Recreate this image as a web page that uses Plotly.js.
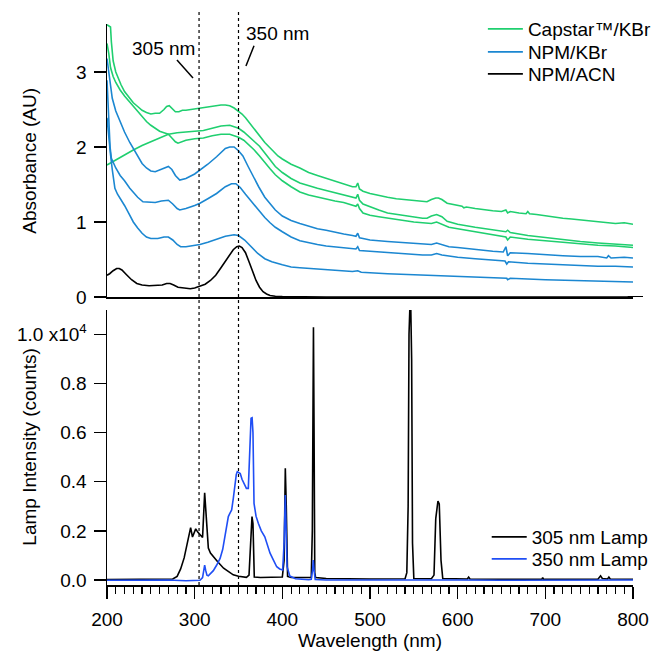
<!DOCTYPE html>
<html>
<head>
<meta charset="utf-8">
<script src="https://cdn.plot.ly/plotly-3.0.1.min.js"></script>
<style>html,body{margin:0;padding:0;background:#fff;}#chart{width:652px;height:652px;}</style>
</head>
<body>
<div id="chart"></div>
<script>
// ---------- Absorbance spectra (top panel) ----------
const wl_cap1 = [200,202,204,205,207,210,213,216,220,225,230,235,240,245,250,255,260,265,268,271,274,278,282,286,290,295,300,305,310,315,320,325,330,335,340,345,350,354,358,362,366,370,375,380,385,390,395,400,410,420,430,440,450,460,470,480,484,486,488,492,500,510,520,530,540,550,560,565,570,575,578,582,588,595,605,607,610,620,630,640,650,655,657,660,670,678,680,682,690,700,710,720,730,740,750,760,770,780,790,800];
const abs_cap1 = [3.63,3.62,3.60,3.40,3.15,3.00,2.90,2.83,2.74,2.66,2.59,2.54,2.49,2.46,2.44,2.45,2.45,2.50,2.54,2.55,2.51,2.47,2.47,2.49,2.49,2.50,2.51,2.52,2.52,2.53,2.54,2.55,2.56,2.56,2.55,2.52,2.48,2.44,2.39,2.33,2.26,2.21,2.14,2.06,2.00,1.94,1.88,1.84,1.77,1.72,1.66,1.62,1.58,1.54,1.50,1.47,1.47,1.52,1.44,1.41,1.38,1.35,1.33,1.31,1.30,1.28,1.27,1.27,1.30,1.32,1.32,1.30,1.25,1.23,1.21,1.19,1.20,1.18,1.16,1.15,1.14,1.16,1.12,1.14,1.12,1.11,1.14,1.11,1.10,1.08,1.07,1.05,1.04,1.03,1.02,1.01,1.00,0.98,0.99,0.97];

const wl_cap2 = [200,210,220,230,240,250,260,270,280,290,300,310,320,330,340,350,356,362,368,374,380,386,392,400,410,420,430,440,450,460,470,480,484,486,488,492,500,510,520,530,540,550,560,565,570,576,582,588,600,620,640,655,657,660,680,700,720,740,760,780,800];
const abs_cap2 = [1.76,1.83,1.89,1.96,2.02,2.07,2.12,2.17,2.19,2.20,2.21,2.22,2.25,2.28,2.29,2.25,2.20,2.14,2.08,2.01,1.92,1.83,1.74,1.66,1.58,1.52,1.48,1.45,1.42,1.39,1.37,1.33,1.32,1.37,1.29,1.24,1.20,1.16,1.12,1.10,1.08,1.06,1.05,1.05,1.08,1.10,1.07,1.01,0.97,0.93,0.90,0.87,0.89,0.86,0.82,0.79,0.76,0.74,0.72,0.70,0.69];

const wl_cap3 = [200,202,204,207,210,215,220,225,230,235,240,245,250,255,260,265,270,274,278,281,285,290,300,310,320,330,340,350,356,362,368,374,380,386,392,400,410,420,430,440,450,460,470,480,484,486,488,492,500,510,520,530,540,550,560,570,576,582,590,600,620,640,655,657,660,680,700,720,740,760,780,800];
const abs_cap3 = [3.38,3.25,3.06,2.94,2.86,2.76,2.68,2.61,2.54,2.47,2.40,2.34,2.29,2.25,2.21,2.19,2.17,2.12,2.07,2.05,2.07,2.09,2.11,2.12,2.15,2.17,2.17,2.13,2.09,2.03,1.96,1.88,1.79,1.71,1.63,1.55,1.47,1.40,1.36,1.33,1.31,1.28,1.26,1.22,1.21,1.24,1.18,1.12,1.09,1.07,1.05,1.04,1.02,1.00,0.99,0.98,1.00,0.97,0.93,0.91,0.87,0.83,0.80,0.76,0.80,0.77,0.75,0.72,0.71,0.69,0.68,0.66];

const wl_kbr1 = [200,203,206,210,215,220,226,230,234,240,245,250,255,260,265,270,274,278,283,290,300,306,315,325,335,340,345,350,355,361,367,373,380,386,392,400,410,420,430,440,450,460,470,480,484,486,488,492,500,520,540,560,570,576,582,590,600,620,640,652,655,657,660,680,700,720,740,760,770,772,775,790,800];
const abs_kbr1 = [3.18,2.90,2.65,2.48,2.33,2.20,2.06,1.98,1.89,1.78,1.72,1.68,1.67,1.69,1.72,1.74,1.70,1.62,1.56,1.58,1.64,1.69,1.77,1.87,1.98,2.00,2.00,1.95,1.88,1.74,1.60,1.47,1.33,1.24,1.16,1.08,1.02,0.98,0.94,0.91,0.89,0.86,0.84,0.82,0.81,0.85,0.79,0.78,0.76,0.74,0.72,0.70,0.70,0.72,0.70,0.67,0.66,0.63,0.61,0.60,0.67,0.55,0.59,0.58,0.56,0.55,0.54,0.54,0.52,0.55,0.52,0.53,0.52];

const wl_kbr2 = [200,202,203.5,205,210,215,220,226,230,235,241,248,255,262,270,275,280,283,290,300,306,315,325,335,342,347,352,358,365,372,380,386,392,400,410,420,430,440,450,460,470,480,484,486,488,500,520,540,560,570,576,582,600,620,640,654,656,658,680,700,720,740,760,780,800];
const abs_kbr2 = [2.89,2.40,2.00,1.85,1.72,1.62,1.55,1.45,1.39,1.33,1.27,1.26,1.26,1.28,1.29,1.24,1.18,1.16,1.18,1.22,1.25,1.31,1.38,1.47,1.51,1.51,1.46,1.37,1.27,1.16,1.06,0.99,0.93,0.87,0.80,0.75,0.72,0.70,0.68,0.67,0.65,0.64,0.64,0.67,0.62,0.61,0.59,0.57,0.56,0.56,0.58,0.56,0.53,0.51,0.49,0.48,0.44,0.47,0.45,0.44,0.43,0.42,0.41,0.41,0.40];

const wl_kbr3 = [200,202,204,206,209,212,215,220,225,230,235,240,245,250,258,265,270,275,280,284,290,300,306,315,325,335,345,350,357,365,372,380,388,400,410,420,440,460,480,486,490,520,560,580,600,640,656,657,660,700,740,780,800];
const abs_kbr3 = [2.39,2.10,1.90,1.70,1.45,1.37,1.32,1.22,1.11,1.00,0.92,0.85,0.80,0.78,0.78,0.80,0.80,0.76,0.70,0.67,0.67,0.69,0.70,0.73,0.77,0.81,0.83,0.82,0.76,0.67,0.58,0.51,0.47,0.43,0.40,0.39,0.37,0.35,0.34,0.35,0.33,0.31,0.29,0.28,0.27,0.25,0.25,0.23,0.25,0.23,0.22,0.21,0.20];

const wl_acn = [200,203,207,211,214,217,222,228,234,240,248,256,263,268,272,276,281,288,295,300,306,312,318,324,330,336,340,344,348,351,354,358,362,366,370,374,378,382,386,392,400,450,500,800];
const abs_acn = [0.29,0.31,0.35,0.38,0.38,0.36,0.30,0.23,0.18,0.16,0.15,0.15,0.16,0.18,0.18,0.16,0.13,0.12,0.11,0.12,0.14,0.17,0.22,0.29,0.39,0.50,0.57,0.63,0.67,0.68,0.66,0.59,0.47,0.34,0.22,0.13,0.07,0.04,0.02,0.01,0.005,0,0,0];

// ---------- Lamp spectra (bottom panel) ----------
const wl_lamp305 = [200,230,250,265,275,280,284,288,291,293.5,295.4,297.5,299.5,301.2,303.5,306,309,311.4,313,315.6,318,321.3,326,333,338,344,350,359,362,364,365.4,366.5,368,375,390,400,402,403.4,404.5,406,410,425,433,434.2,435,435.5,436.2,437,438,450,500,540,542,543.5,544.5,545.5,546.5,547.5,548.5,550,570,573,575,577.5,579,581,583,611,612.5,614,650,696,697,698,760,763,765,771,772.5,774,800];
const cnt_lamp305 = [20,25,30,35,40,150,450,900,1350,1800,2130,1750,1950,2080,1950,1830,1730,3550,2500,1300,1100,950,750,480,350,210,150,110,200,2050,2580,2300,120,100,110,120,800,4545,3000,150,100,90,100,2000,9800,10285,6000,300,100,60,40,50,300,3000,10000,11100,11100,9000,1500,60,50,200,2500,3215,3100,800,60,40,120,40,30,30,100,30,30,170,60,40,120,40,30];

const wl_lamp350 = [200,230,250,270,290,300,306,309,310.5,311.4,312.5,314,315.6,318,321.3,325,329,332,334.6,336.5,338.4,340,342.2,344,346,347.5,348.6,350.5,352,354,357.4,359,361.2,362,363,364.3,365.5,366.5,367.7,370,372.6,376,380,383,386,390,393.6,397,400.4,402,403.4,404.5,405.4,408.5,415,430,433,434.5,435.3,436.2,437.5,450,500,546,578,600,650,700,750,800];
const cnt_lamp350 = [-10,0,10,0,-30,-20,-10,100,450,610,400,200,170,250,380,600,880,1250,1760,2250,2580,2700,2850,3300,3930,4300,4410,4380,4330,4100,3800,3730,3730,4500,6000,6580,6600,6000,3120,2600,2310,2000,1760,1450,1090,800,540,450,410,1500,3460,1800,540,160,50,10,30,400,814,400,20,0,0,30,20,0,-10,0,0,0];

const yticks_abs = [0,1,2,3];
const yticks_lamp = [0,2000,4000,6000,8000,10000];
const yticklabels_lamp = ['0.0','0.2','0.4','0.6','0.8','1.0 x10<sup>4</sup>'];
const marker_wl = [305, 350];
const marker_labels = ['305 nm', '350 nm'];

const GREEN = '#1fcf6f', BLUE = '#1b87d1', LAMPBLUE = '#1f4ef5';
const FONT = 'Liberation Sans, Arial, Helvetica, sans-serif';
const FS = 19;

function tr(x, y, name, color, show, xa, ya, leg) {
  return {x: x, y: y, name: name, type: 'scatter', mode: 'lines',
    line: {color: color, width: 1.6}, showlegend: show,
    xaxis: xa, yaxis: ya, legend: leg, hoverinfo: 'skip'};
}

const data = [
  tr(wl_cap1, abs_cap1, 'Capstar™/KBr', GREEN, true, 'x', 'y', 'legend'),
  tr(wl_cap2, abs_cap2, 'Capstar™/KBr', GREEN, false, 'x', 'y', 'legend'),
  tr(wl_cap3, abs_cap3, 'Capstar™/KBr', GREEN, false, 'x', 'y', 'legend'),
  tr(wl_kbr1, abs_kbr1, 'NPM/KBr', BLUE, true, 'x', 'y', 'legend3'),
  tr(wl_kbr2, abs_kbr2, 'NPM/KBr', BLUE, false, 'x', 'y', 'legend3'),
  tr(wl_kbr3, abs_kbr3, 'NPM/KBr', BLUE, false, 'x', 'y', 'legend3'),
  tr(wl_acn, abs_acn, 'NPM/ACN', '#000000', true, 'x', 'y', 'legend4'),
  tr(wl_lamp305, cnt_lamp305, '305 nm Lamp', '#000000', true, 'x2', 'y2', 'legend2'),
  tr(wl_lamp350, cnt_lamp350, '350 nm Lamp', LAMPBLUE, true, 'x2', 'y2', 'legend5')
];

const topDom = [0.5134, 1];
const botDom = [0, 0.4902];

const shapes = marker_wl.map(w => ({type: 'line', xref: 'x2', yref: 'paper', x0: w, x1: w, y0: 0, y1: 1.0214,
  line: {color: '#000', width: 1.2, dash: 'dot'}}));
shapes.push({type: 'line', xref: 'x', yref: 'y', x0: 279.8, y0: 3.16, x1: 298.1, y1: 2.92, line: {color: '#000', width: 1.5}});
shapes.push({type: 'line', xref: 'x', yref: 'y', x0: 367.7, y0: 3.35, x1: 358.5, y1: 3.08, line: {color: '#000', width: 1.5}});
shapes.push({type: 'line', xref: 'paper', yref: 'y', x0: 0.99, x1: 1.019, y0: 0, y1: 0, line: {color: '#000', width: 2}});

const tf = {size: FS, color: '#000', family: FONT};
const annotations = [
  {text: marker_labels[0], xref: 'x', yref: 'y', x: 263.9, y: 3.307, showarrow: false, font: tf},
  {text: marker_labels[1], xref: 'x', yref: 'y', x: 395.0, y: 3.52, showarrow: false, font: tf},
  {text: 'Absorbance (AU)', xref: 'paper', yref: 'paper', x: -0.148, y: (topDom[0]+topDom[1])/2, xanchor: 'center', yanchor: 'middle', textangle: -90, showarrow: false, font: tf},
  {text: 'Lamp Intensity (counts)', xref: 'paper', yref: 'paper', x: -0.148, y: (botDom[0]+botDom[1])/2, xanchor: 'center', yanchor: 'middle', textangle: -90, showarrow: false, font: tf},
  {text: 'Wavelength (nm)', xref: 'paper', yref: 'paper', x: 0.5, y: -0.0989, xanchor: 'center', yanchor: 'middle', showarrow: false, font: tf}
];

function leg(x, y) {
  return {x: x, y: y, xanchor: 'left', yanchor: 'top', bgcolor: 'rgba(0,0,0,0)', borderwidth: 0,
    font: {size: FS, family: FONT, color: '#000'}, itemwidth: 35, traceorder: 'normal'};
}

const layout = {
  width: 652, height: 652,
  margin: {l: 107, r: 19, t: 24, b: 67, pad: 0, autoexpand: false},
  paper_bgcolor: '#fff', plot_bgcolor: '#fff',
  font: {family: FONT, size: FS, color: '#000'},
  xaxis: {domain: [0, 1], anchor: 'y', range: [200, 800], showline: true, linecolor: '#000', linewidth: 2,
    ticks: '', showticklabels: false, showgrid: false, zeroline: false, automargin: false},
  yaxis: {domain: topDom, anchor: 'x', range: [0, 3.64], showline: true, linecolor: '#000', linewidth: 1.5,
    ticks: 'outside', ticklen: 12, tickwidth: 1.5, tickcolor: '#000', tickvals: yticks_abs,
    ticklabelstandoff: 3, showgrid: false, zeroline: false, automargin: false},
  xaxis2: {domain: [0, 1], anchor: 'y2', range: [200, 800], showline: true, linecolor: '#000', linewidth: 1.5,
    ticks: 'outside', ticklen: 12, tickwidth: 1.5, tickcolor: '#000', tick0: 200, dtick: 100,
    minor: {dtick: 10, ticks: 'outside', ticklen: 7, tickwidth: 1.2, tickcolor: '#000'},
    ticklabelstandoff: 5, showgrid: false, zeroline: false, automargin: false},
  yaxis2: {domain: botDom, anchor: 'x2', range: [-203, 10989], showline: true, linecolor: '#000', linewidth: 1.5,
    ticks: 'outside', ticklen: 12, tickwidth: 1.5, tickcolor: '#000', tickvals: yticks_lamp, ticktext: yticklabels_lamp,
    ticklabelstandoff: 3, showgrid: false, zeroline: false, automargin: false},
  legend: leg(0.7146, 1.025),
  legend3: leg(0.7146, 0.984),
  legend4: leg(0.7146, 0.9447),
  legend2: leg(0.7219, 0.1194),
  legend5: leg(0.7219, 0.0802),
  shapes: shapes,
  annotations: annotations
};

Plotly.newPlot('chart', data, layout, {staticPlot: true, displayModeBar: false});
</script>
</body>
</html>
